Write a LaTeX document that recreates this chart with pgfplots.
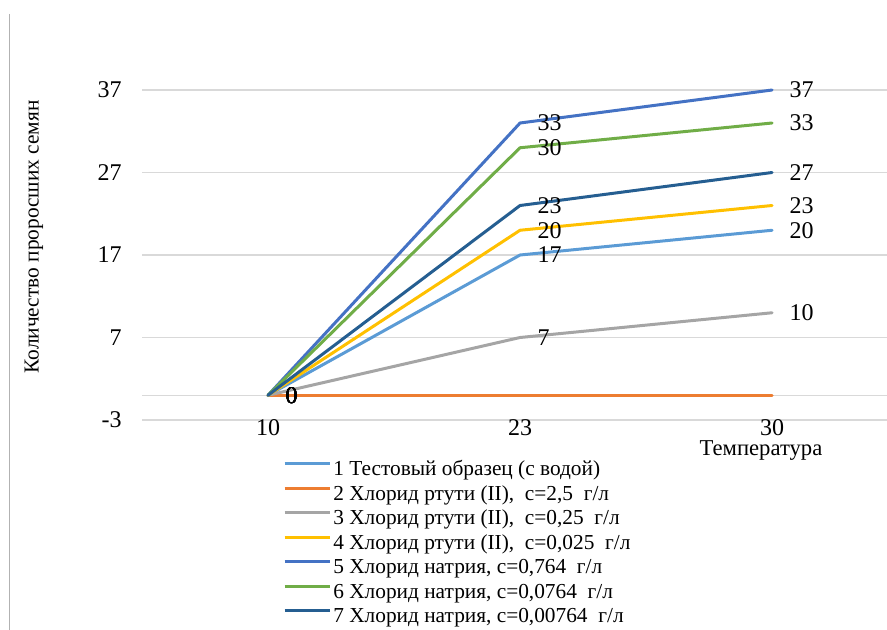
\documentclass[border=0pt]{standalone}
\usepackage{fontspec}
\setmainfont{Liberation Serif}
\usepackage{pgfplots}
\pgfplotsset{compat=1.18}

\definecolor{sA}{HTML}{5B9BD5}
\definecolor{sB}{HTML}{ED7D31}
\definecolor{sC}{HTML}{A5A5A5}
\definecolor{sD}{HTML}{FFC000}
\definecolor{sE}{HTML}{4472C4}
\definecolor{sF}{HTML}{70AD47}
\definecolor{sG}{HTML}{255E91}
\definecolor{gridc}{HTML}{D9D9D9}

\begin{document}
\begin{tikzpicture}
% canvas: 887 x 630 px, 1px = 0.75pt, y measured downward from the top
\path[use as bounding box] (0pt,0pt) rectangle (665.25pt,-472.5pt);
\draw[color=black!30, line width=0.75pt] (6.75pt,-10.5pt) -- (6.75pt,-472.5pt);

\begin{axis}[
  at={(106.5pt,-315pt)}, anchor=south west,
  width=558.75pt, height=247.5pt, scale only axis,
  xmin=-0.5, xmax=2.456, ymin=-3, ymax=37,
  xtick={0,1,2}, xticklabels={10,23,30},
  ytick={-3,7,17,27,37},
  extra y ticks={0}, extra y tick labels={},
  extra y tick style={grid=major},
  ymajorgrids, grid style={color=gridc, line width=0.9pt},
  axis line style={draw=none}, major tick length=0pt,
  tick label style={font=\fontsize{18}{20}\selectfont},
  /pgf/number format/assume math mode=true,
  xticklabel style={anchor=center, inner sep=0pt, yshift=-6pt},
  yticklabel style={anchor=east, inner sep=0pt, xshift=-15pt},
  clip=false,
  every axis plot/.append style={line width=2.25pt, line join=round, line cap=round},
  nodes near coords style={anchor=west, inner sep=0pt, xshift=12pt,
    font=\fontsize{18}{20}\selectfont, text=black},
  legend cell align=left,
  legend image code/.code={\draw[#1, line cap=butt] (0pt,5pt) -- (34pt,5pt);},
  legend style={at={(axis description cs:0.1893,-0.1197)}, anchor=north west,
    draw=none, fill=none, inner sep=0pt, outer sep=0pt,
    font=\fontsize{16}{18}\selectfont,
    nodes={inner sep=0pt, text height=12pt, text depth=4pt},
    row sep=2.375pt, column sep=1.5pt},
]
\addplot[color=sA, nodes near coords] coordinates {(0,0) (1,17) (2,20)};
\addlegendentry{1 Тестовый образец (с водой)}
\addplot[color=sB] coordinates {(0,0) (1,0) (2,0)};
\addlegendentry{2 Хлорид ртути (II),\ \ с=2,5\ \ г/л}
\addplot[color=sC, nodes near coords] coordinates {(0,0) (1,7) (2,10)};
\addlegendentry{3 Хлорид ртути (II),\ \ с=0,25\ \ г/л}
\addplot[color=sD, nodes near coords] coordinates {(0,0) (1,20) (2,23)};
\addlegendentry{4 Хлорид ртути (II),\ \ с=0,025\ \ г/л}
\addplot[color=sE, nodes near coords] coordinates {(0,0) (1,33) (2,37)};
\addlegendentry{5 Хлорид натрия, с=0,764\ \ г/л}
\addplot[color=sF, nodes near coords] coordinates {(0,0) (1,30) (2,33)};
\addlegendentry{6 Хлорид натрия, с=0,0764\ \ г/л}
\addplot[color=sG, nodes near coords] coordinates {(0,0) (1,23) (2,27)};
\addlegendentry{7 Хлорид натрия, с=0,00764\ \ г/л}
% value label of the mercury 2,5 g/l series at the first temperature
\addplot[draw=none, forget plot, nodes near coords] coordinates {(0,0)};
\end{axis}

\node[rotate=90, font=\fontsize{16}{18}\selectfont] at (25.5pt,-177.75pt) {Количество проросших семян};
\node[inner sep=0pt, font=\fontsize{17}{19}\selectfont] at (570.75pt,-338pt) {Температура};
\end{tikzpicture}
\end{document}
